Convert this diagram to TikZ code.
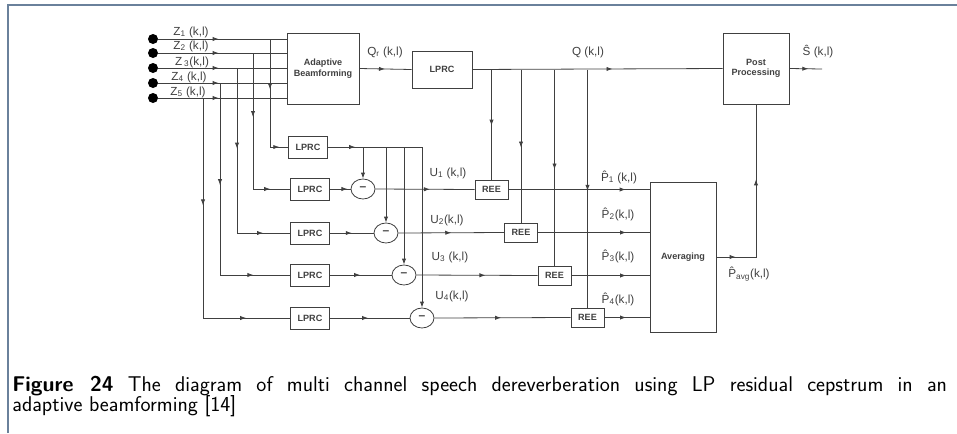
\documentclass[tikz,border=0pt]{standalone}
\usepackage{fontspec}
\newfontfamily\arialfont{Liberation Sans}
\usetikzlibrary{positioning,arrows.meta,shapes.geometric,decorations.markings}
\definecolor{framecol}{HTML}{6A819B}

\begin{document}
\begin{tikzpicture}[x=0.75pt,y=-0.75pt,
			>={Latex[length=4.5pt,width=3.2pt]},
			black!75,
			line width=0.6pt,
			blk/.style 2 args={
				draw,
				fill=white,
				align=center,
				inner sep=0pt,
				minimum width=#1*0.75pt,
				minimum height=#2*0.75pt,
				font=\arialfont\bfseries\fontsize{6.8}{7.8}\selectfont
			},
			sub/.style={draw,ellipse,fill=white,inner sep=0pt,
				minimum width=18pt,minimum height=15pt,
				font=\arialfont\bfseries\small},
			lbl/.style={inner sep=0pt,font=\arialfont\fontsize{8.8}{10}\selectfont},
			dot/.style={circle,fill=black,inner sep=0pt,minimum size=7.5pt},
			capline/.style={anchor=base west,inner sep=0pt,black,
				text height=11pt,text depth=2pt,
				font=\sffamily\fontsize{16}{18}\selectfont},
			midarr/.style={postaction={decorate},
				decoration={markings,mark=at position #1 with {\arrow{>}}}},
			twoarr/.style 2 args={postaction={decorate},
				decoration={markings,mark=at position #1 with {\arrow{>}},
					mark=at position #2 with {\arrow{>}}}}]
			
			\useasboundingbox (0,0) rectangle (957,433);
			
			\draw[framecol,line width=1.5pt] (8,433) -- (8,4.5) -- (957,4.5);
			
			% microphones and beamformer
			\node(ab)[blk={72}{71}] at (323,68.5) {Adaptive\\Beamforming};
			
			\node(d1)[dot] at (153,39) {};
			\node(d2)[dot] at (153,53) {};
			\node(d3)[dot] at (153,68) {};
			\node(d4)[dot] at (153,83) {};
			\node(d5)[dot] at (153,98) {};
			
			\node(z1)[lbl] at (191,32) {Z\textsubscript{1} (k,l)};
			\node(z2)[lbl] at (191,46) {Z\textsubscript{2} (k,l)};
			\node(z3)[lbl] at (192,62) {Z\,\textsubscript{3}(k,l)};
			\node(z4)[lbl] at (189,77) {Z\textsubscript{4} (k,l)};
			\node(z5)[lbl] at (188,92) {Z\textsubscript{5} (k,l)};
			
			\foreach \i in {1,...,5}
				\draw[midarr=0.47] (d\i) -- (d\i -| ab.west);
			
			% top chain
			\node(lt)[blk={60}{37}] at (442,69.5) {LPRC};
			
			\node(pp)[blk={66}{71}] at (756,68.5) {Post\\Processing};
			
			\coordinate(out) at (822,69);
			
			\draw[midarr=0.49] (ab.east) -- (lt.west);
			
			\draw[midarr=0.56] (lt.east) -- (pp.west);
			
			\draw[midarr=0.58] (pp.east) -- (out);
			
			\node(qr)[lbl] at (385,52) {Q\textsubscript{r} (k,l)};
			\node(q)[lbl] at (588,52) {Q (k,l)};
			\node(s)[lbl] at (818,52) {\^{S} (k,l)};
			
			% channel LPRC blocks
			\node(lp1)[blk={39}{22}] at (308,147) {LPRC};
			\node(lp2)[blk={39}{22}] at (310,189) {LPRC};
			\node(lp3)[blk={39}{22}] at (310,233) {LPRC};
			\node(lp4)[blk={39}{22}] at (310,275) {LPRC};
			\node(lp5)[blk={39}{22}] at (310,318) {LPRC};
			
			\coordinate(t1) at (270,39);
			\coordinate(t2) at (253,53);
			\coordinate(t3) at (237,68);
			\coordinate(t4) at (220,83);
			\coordinate(t5) at (203,98);
			
			\draw[twoarr={0.40}{0.93}] (t1) |- (lp1.west);
			\draw[twoarr={0.37}{0.885}] (t2) |- (lp2.west);
			\draw[twoarr={0.37}{0.876}] (t3) |- (lp3.west);
			\draw[twoarr={0.39}{0.86}] (t4) |- (lp4.west);
			\draw[twoarr={0.35}{0.857}] (t5) |- (lp5.west);
			
			% subtraction
			\node(m1)[sub] at (363,189) {\textendash};
			\node(m2)[sub] at (386,233) {\textendash};
			\node(m3)[sub] at (404,275) {\textendash};
			\node(m4)[sub] at (422,318) {\textendash};
			
			\draw[midarr=0.85] (lp2.east) -- (m1.west);
			\draw[midarr=0.5] (lp3.east) -- (m2.west);
			\draw[midarr=0.49] (lp4.east) -- (m3.west);
			\draw[midarr=0.48] (lp5.east) -- (m4.west);
			
			\draw[midarr=0.29] (lp1.east) -- (m4 |- lp1.east);
			\draw[->] (m4 |- lp1.east) -- (m4.north);
			\draw[->] (m1 |- lp1.east) -- (m1.north);
			\draw[->] (m2 |- lp1.east) -- (m2.north);
			\draw[->] (m3 |- lp1.east) -- (m3.north);
			
			% REE blocks
			\node(r1)[blk={33}{19}] at (491.5,189.5) {REE};
			\node(r2)[blk={33}{19}] at (521,232.5) {REE};
			\node(r3)[blk={33}{19}] at (554.5,275.5) {REE};
			\node(r4)[blk={33}{19}] at (587.5,317.5) {REE};
			
			\draw[midarr=0.55] (m1.east) -- (r1.west);
			\draw[midarr=0.5] (m2.east) -- (r2.west);
			\draw[midarr=0.57] (m3.east) -- (r3.west);
			\draw[midarr=0.49] (m4.east) -- (r4.west);
			
			\node(u1)[lbl] at (448,173) {U\textsubscript{1} (k,l)};
			\node(u2)[lbl] at (447,220) {U\textsubscript{2}(k,l)};
			\node(u3)[lbl] at (450,257) {U\textsubscript{3} (k,l)};
			\node(u4)[lbl] at (452,296) {U\textsubscript{4}(k,l)};
			
			\foreach \i in {1,...,4}
				\draw[midarr=0.51] (r\i |- lt.east) -- (r\i.north);
			
			% averaging
			\node(av)[blk={66}{150}] at (683,257) {Averaging};
			
			\draw[midarr=0.83] (r1.east) -- (r1.east -| av.west);
			\draw[midarr=0.79] (r2.east) -- (r2.east -| av.west);
			\draw[midarr=0.70] (r3.east) -- (r3.east -| av.west);
			\draw[midarr=0.48] (r4.east) -- (r4.east -| av.west);
			
			\node(p1)[lbl] at (619,177) {\^{P}\textsubscript{1} (k,l)};
			\node(p2)[lbl] at (618,214) {\^{P}\textsubscript{2}(k,l)};
			\node(p3)[lbl] at (618,256) {\^{P}\textsubscript{3}(k,l)};
			\node(p4)[lbl] at (618,299) {\^{P}\textsubscript{4}(k,l)};
			
			\draw[twoarr={0.10}{0.61}] (av.east) -| (pp.south);
			
			\node(pavg)[lbl] at (749,274) {\^{P}\textsubscript{avg}(k,l)};
			
			% caption
			\node(cap1)[capline] at (12,391)
				{\makebox[701pt][s]{\textbf{Figure 24} The diagram of multi channel speech dereverberation using LP residual cepstrum in an}};
			\node(cap2)[capline] at (12,411)
				{adaptive beamforming [14]};
			
		\end{tikzpicture}
\end{document}
